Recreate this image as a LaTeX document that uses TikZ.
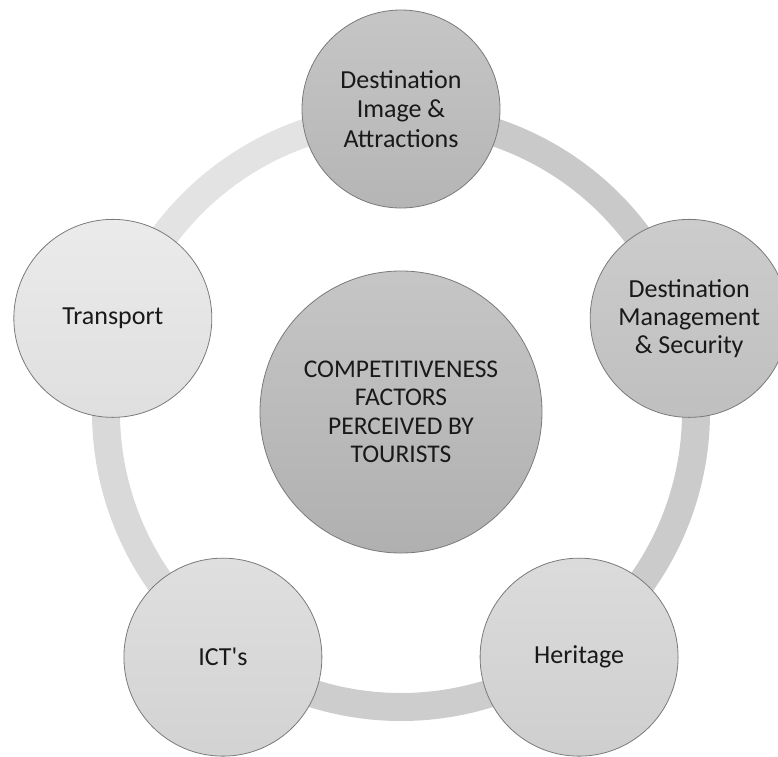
\documentclass[tikz,border=0pt]{standalone}
\usepackage{fontspec}
\setmainfont{Carlito}[Ligatures=TeXOff]
\definecolor{ringTL}{HTML}{E3E3E3}
\definecolor{ringTR}{HTML}{C9C9C9}
\definecolor{ringR}{HTML}{CBCBCB}
\definecolor{ringB}{HTML}{CDCDCD}
\definecolor{ringL}{HTML}{D9D9D9}
\definecolor{edgegray}{HTML}{7A7A7A}
\begin{document}
\begin{tikzpicture}[x=1pt,y=1pt,
  ring/.style={line width=28pt},
  factor/.style={circle, draw=edgegray, line width=0.8pt, minimum size=198pt,
    inner sep=0pt, align=center, text=black!90,
    font=\fontsize{26}{29.5}\selectfont},
  hub/.style={factor, minimum size=282pt, font=\fontsize{25.5}{28.5}\selectfont}]
\useasboundingbox (-401,-344) rectangle (377,412);
% ring anchor points
\coordinate (rT) at (90:295);
\coordinate (rR) at (18:295);
\coordinate (rBR) at (-54:295);
\coordinate (rBL) at (-126:295);
\coordinate (rL) at (162:295);
% ring segments
\draw[ring, draw=ringTL] (rL) arc[start angle=162, end angle=90, radius=295];
\draw[ring, draw=ringTR] (rT) arc[start angle=90, end angle=18, radius=295];
\draw[ring, draw=ringR] (rR) arc[start angle=18, end angle=-54, radius=295];
\draw[ring, draw=ringB] (rBR) arc[start angle=-54, end angle=-126, radius=295];
\draw[ring, draw=ringL] (rBL) arc[start angle=234, end angle=162, radius=295];
% factor circles
\node[factor, top color=gray!45, bottom color=gray!58] (img) at (90:303)
  {Destination\\Image \&\\Attractions};
\node[factor, top color=gray!40, bottom color=gray!50,
  font=\fontsize{26}{28}\selectfont] (mgmt) at (18:303)
  {Destination\\Management\\\& Security};
\node[factor, top color=gray!28, bottom color=gray!38] (her) at (-54:303) {Heritage};
\node[factor, top color=gray!25, bottom color=gray!35] (ict) at (-126:303) {ICT's};
\node[factor, top color=gray!16, bottom color=gray!25] (tra) at (162:303) {Transport};
% hub
\node[hub, top color=gray!45, bottom color=gray!62] (hubc) at (0,0)
  {COMPETITIVENESS\\FACTORS\\PERCEIVED BY\\TOURISTS};
\end{tikzpicture}
\end{document}
